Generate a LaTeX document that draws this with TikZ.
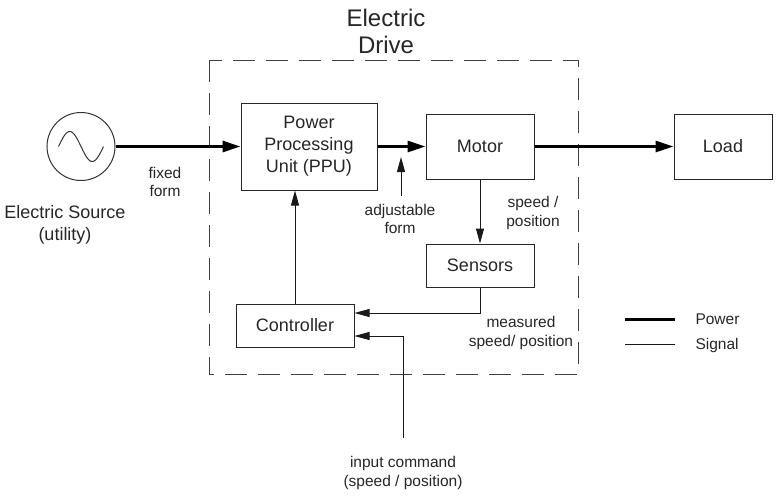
\documentclass[tikz,border=0pt]{standalone}
\usepackage{fontspec}
\setmainfont{Liberation Sans}
\usetikzlibrary{arrows.meta,positioning}
\tikzset{
  block/.style={
    rectangle,
    draw=black!85,
    line width=1pt,
    inner sep=0pt,
    align=center,
    text=black!85,
    font=\fontsize{18}{22}\selectfont
  },
  source/.style={
    circle,
    draw=black!80,
    line width=1pt,
    minimum size=68pt,
    inner sep=0pt
  },
  power/.style={
    line width=3pt,
    -{Triangle[length=18pt,width=11pt]}
  },
  signal/.style={
    line width=1pt,
    black!90,
    -{Triangle[length=15pt,width=8pt]}
  },
  drivebox/.style={
    draw=black!75,
    line width=1pt,
    dash pattern=on 22pt off 11pt
  },
  paneltitle/.style={
    align=center,
    text=black!85,
    font=\fontsize{24}{27}\selectfont
  },
  maintext/.style={
    align=center,
    text=black!85,
    font=\fontsize{18}{22}\selectfont
  },
  note/.style={
    align=center,
    text=black!85,
    font=\fontsize{15.5}{18.5}\selectfont
  }
}

\begin{document}
\begin{tikzpicture}[x=1pt,y=-1pt]
  \useasboundingbox (0,0) rectangle (780,496);

  % ------------------------------------------------------------------
  % Electric drive boundary
  % ------------------------------------------------------------------
  \draw[drivebox] (209,60) rectangle (578,374);
  \node[paneltitle] (drive) at (386,31) {Electric\\Drive};

  % ------------------------------------------------------------------
  % Source
  % ------------------------------------------------------------------
  \node[source] (src) at (81,146.5) {};
  \draw[line width=1pt, black!80, shift={(src.center)}]
    plot[domain=0:360, samples=60, smooth] ({\x/360*45-22.5},{-15*sin(\x)});
  \node[maintext] (srctxt) at (65,225) {Electric Source\\(utility)};

  % ------------------------------------------------------------------
  % Blocks
  % ------------------------------------------------------------------
  \node[block, minimum width=136pt, minimum height=87pt] (ppu) at (309,146.5) {Power\\Processing\\Unit (PPU)};
  \node[block, minimum width=108pt, minimum height=65pt] (motor) at (480,146.5) {Motor};
  \node[block, minimum width=98pt, minimum height=65pt] (load) at (723,146.5) {Load};
  \node[block, minimum width=108pt, minimum height=43pt] (sensors) at (480,265.5) {Sensors};
  \node[block, minimum width=118pt, minimum height=43pt] (ctrl) at (295,325.5) {Controller};

  % Power flow
  \draw[power] (src) -- (ppu);
  \draw[power] (ppu) -- (motor);
  \draw[power] (motor) -- (load);

  % Signals
  \draw[signal] (motor) -- (sensors);
  \draw[signal] (sensors.south) |- ([yshift=12.5pt]ctrl.east);
  \draw[signal] (ctrl.north) -- (ctrl.north |- ppu.south);
  \coordinate (cmd) at (403,438);
  \draw[signal] (cmd) |- ([yshift=-10.5pt]ctrl.east);
  \coordinate (adj) at (401,196);
  \coordinate (adjtip) at (401,157);
  \draw[signal] (adj) -- (adjtip);

  % Labels
  \node[note] (fixed) at (165,182) {fixed\\form};
  \node[note] (adjtxt) at (400,219) {adjustable\\form};
  \node[note] (speed) at (533,213) {speed /\\position};
  \node[note] (meas) at (521,333) {measured\\speed/ position};
  \node[note] (cmdtxt) at (403,473) {input command\\(speed / position)};

  % Legend
  \draw[power, -] (625,319) -- (675,319);
  \node[note, anchor=west] (legpower) at (692,319) {Power};
  \draw[signal, -] (625,344) -- (675,344);
  \node[note, anchor=west] (legsignal) at (692,345) {Signal};
\end{tikzpicture}
\end{document}
